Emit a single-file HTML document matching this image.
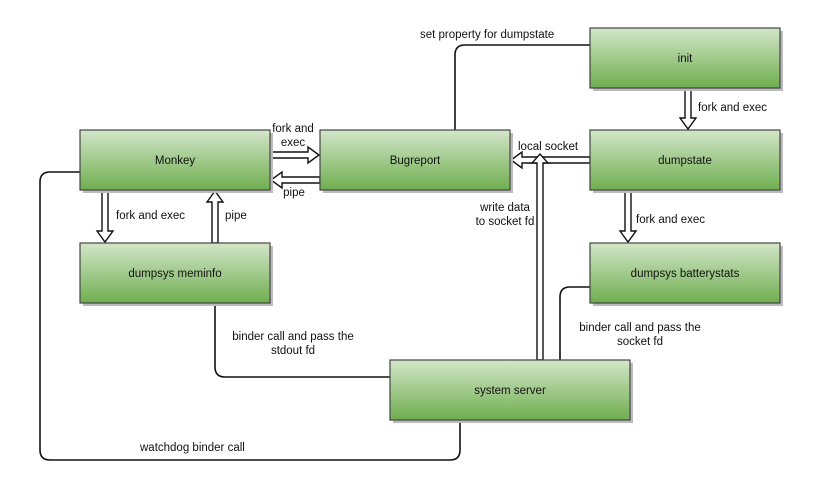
<!DOCTYPE html>
<html><head><meta charset="utf-8"><style>
html,body{margin:0;padding:0;background:#fff;width:828px;height:484px;overflow:hidden}
svg text{font-family:"Liberation Sans",sans-serif;font-size:11.5px;fill:#111}
</style></head><body>
<svg width="828" height="484" viewBox="0 0 828 484" xmlns="http://www.w3.org/2000/svg">
<defs>
<linearGradient id="g" x1="0" y1="0" x2="0" y2="1">
<stop offset="0" stop-color="#d3e6c9"/><stop offset="1" stop-color="#6fae4f"/>
</linearGradient>
</defs>
<g fill="none" stroke="#111" stroke-width="1.6">
<path d="M455 130 V55 Q455 45 465 45 H590"/>
<path d="M590 287 H570 Q560 287 560 297 V360"/>
<path d="M215 303 V367 Q215 377 225 377 H390"/>
<path d="M80 172 H50 Q40 172 40 182 V450 Q40 460 50 460 H450 Q460 460 460 450 V420"/>
</g>
<g fill="#fff" stroke="#111" stroke-width="1.4">
<polygon points="685,88 691,88 691,118 696,118 688,129 680,118 685,118"/>
<polygon points="625,190 631,190 631,231 636,231 628,242 620,231 625,231"/>
<polygon points="102,190 108,190 108,231 113,231 105,242 97,231 102,231"/>
<polygon points="212,243 218,243 218,202 223,202 215,191 207,202 212,202"/>
<polygon points="270,152 308,152 308,147 319,155 308,163 308,158 270,158"/>
<polygon points="320,177 282,177 282,172 271,180 282,188 282,183 320,183"/>
<polygon points="590,157 522,157 522,152 511,160 522,168 522,163 590,163"/>
<polygon points="537,360 537,163 532,163 540,154 548,163 543,163 543,360"/>
</g>
<g stroke="#444" stroke-width="1.2" fill="url(#g)">
<rect x="83" y="133" width="190" height="60" fill="#bbb" stroke="none"/>
<rect x="80" y="130" width="190" height="60"/>
<rect x="323" y="133" width="190" height="60" fill="#bbb" stroke="none"/>
<rect x="320" y="130" width="190" height="60"/>
<rect x="593" y="31" width="190" height="60" fill="#bbb" stroke="none"/>
<rect x="590" y="28" width="190" height="60"/>
<rect x="593" y="133" width="190" height="60" fill="#bbb" stroke="none"/>
<rect x="590" y="130" width="190" height="60"/>
<rect x="593" y="246" width="190" height="60" fill="#bbb" stroke="none"/>
<rect x="590" y="243" width="190" height="60"/>
<rect x="83" y="246" width="190" height="60" fill="#bbb" stroke="none"/>
<rect x="80" y="243" width="190" height="60"/>
<rect x="393" y="363" width="240" height="60" fill="#bbb" stroke="none"/>
<rect x="390" y="360" width="240" height="60"/>
</g>
<g text-anchor="middle">
<text x="175" y="164">Monkey</text>
<text x="415" y="164">Bugreport</text>
<text x="685" y="62">init</text>
<text x="685" y="164">dumpstate</text>
<text x="685" y="277">dumpsys batterystats</text>
<text x="175" y="277">dumpsys meminfo</text>
<text x="510" y="394">system server</text>
<text x="293" y="132">fork and</text>
<text x="293" y="146">exec</text>
<text x="294" y="196">pipe</text>
<text x="505" y="211">write data</text>
<text x="505" y="225">to socket fd</text>
<text x="640" y="331">binder call and pass the</text>
<text x="640" y="345">socket fd</text>
<text x="293" y="340">binder call and pass the</text>
<text x="293" y="354">stdout fd</text>
</g>
<text x="420" y="38">set property for dumpstate</text>
<text x="698" y="111">fork and exec</text>
<text x="518" y="150">local socket</text>
<text x="636" y="223">fork and exec</text>
<text x="116" y="219">fork and exec</text>
<text x="225" y="219">pipe</text>
<text x="140" y="451">watchdog binder call</text>
</svg>
</body></html>
